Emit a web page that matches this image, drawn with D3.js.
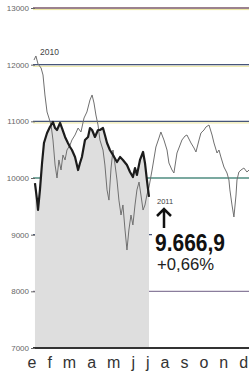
<!DOCTYPE html>
<html>
<head>
<meta charset="utf-8">
<script src="https://cdn.jsdelivr.net/npm/d3@7"></script>
<style>
  html, body { margin: 0; padding: 0; background: #fff; }
  svg { display: block; font-family: "Liberation Sans", Arial, sans-serif; }
</style>
</head>
<body>
<div id="chart"></div>
<script>
// month labels (Spanish initials) and y ticks
const months = ["e", "f", "m", "a", "m", "j", "j", "a", "s", "o", "n", "d"];
const yTicks = [7000, 8000, 9000, 10000, 11000, 12000, 13000];

// 2010: time in months since 1 Jan, index value
const t2010 = [0.00, 0.10, 0.21, 0.37, 0.47, 0.57, 0.68, 0.78, 0.89, 0.99,
  1.10, 1.20, 1.30, 1.41, 1.51, 1.62, 1.72, 1.88, 1.98, 2.14,
  2.30, 2.45, 2.61, 2.76, 2.92, 3.03, 3.13, 3.23, 3.34, 3.44,
  3.60, 3.70, 3.81, 3.91, 4.02, 4.12, 4.23, 4.33, 4.43, 4.54,
  4.64, 4.75, 4.85, 4.95, 5.06, 5.16, 5.27, 5.37, 5.48, 5.58,
  5.69, 5.79, 5.89, 6.00, 6.16, 6.36, 6.52, 6.62, 6.78, 6.94,
  7.04, 7.20, 7.30, 7.46, 7.62, 7.72, 7.88, 7.98, 8.19, 8.35,
  8.45, 8.61, 8.71, 8.87, 8.97, 9.13, 9.29, 9.39, 9.55, 9.65,
  9.75, 9.91, 10.07, 10.17, 10.22, 10.33, 10.43, 10.54, 10.59, 10.69,
  10.80, 10.95, 11.11, 11.22, 11.37];
const v2010 = [12082, 12153, 12012, 11941, 11818, 11465, 11165, 11059, 10935, 10671,
  10229, 10000, 10318, 10141, 10406, 10318, 10494, 10582, 10671, 10759,
  10882, 10812, 11059, 11165, 11376, 11465, 11324, 11112, 10935, 10671,
  10494, 10229, 9790, 9610, 10176, 10494, 10229, 9965, 9610, 9347,
  9524, 9082, 8729, 9082, 9347, 9171, 9524, 9790, 9929, 9700,
  9435, 9524, 9700, 9841, 10141, 10547, 10706, 10812, 10671, 10494,
  10265, 10141, 10088, 10441, 10582, 10671, 10741, 10759, 10618, 10529,
  10459, 10671, 10794, 10847, 10900, 10935, 10759, 10618, 10441, 10494,
  10371, 10194, 10088, 9965, 9790, 9524, 9312, 9700, 9965, 10106,
  10141, 10176, 10106, 10141, 10176];

// 2011: time in months since 1 Jan, index value
const t2011 = [0.05, 0.16, 0.21, 0.31, 0.42, 0.52, 0.68, 0.83, 0.99, 1.10,
  1.20, 1.36, 1.46, 1.62, 1.77, 1.88, 1.98, 2.14, 2.30, 2.40,
  2.50, 2.66, 2.82, 2.92, 3.03, 3.18, 3.34, 3.44, 3.60, 3.70,
  3.81, 3.96, 4.12, 4.33, 4.49, 4.64, 4.85, 5.01, 5.16, 5.27,
  5.37, 5.53, 5.69, 5.79, 5.89, 6.00];
const v2011 = [9910, 9610, 9435, 9790, 10265, 10618, 10794, 10900, 10988, 10882,
  10847, 10971, 10882, 10724, 10618, 10547, 10494, 10371, 10141, 10265,
  10371, 10671, 10724, 10882, 10847, 10724, 10847, 10847, 10882, 10759,
  10618, 10494, 10406, 10282, 10371, 10318, 10229, 10106, 10018, 10176,
  10053, 10318, 10459, 10265, 9965, 9667];

const lastValue = "9.666,9";
const lastChange = "+0,66%";

function chartRenderFn() {
  let width = 249,
    height = 372,
    left = 34,
    right = 249;

  // create xScale
  let xScale = d3.scaleLinear().domain([0, 12]).range([left, 264]);

  // create yScale
  let yScale = d3.scaleLinear().domain([7000, 13000]).range([348, 8]);

  // create SVG
  let svg = d3
    .select("#chart")
    .append("svg")
    .attr("width", width)
    .attr("height", height);

  let data2010 = t2010.map((t, i) => ({ t: t, v: v2010[i] }));
  let data2011 = t2011.map((t, i) => ({ t: t, v: v2011[i] }));

  // gridlines (scanned look: dark line with a faint yellow fringe)
  let grid = svg.append("g").attr("class", "grid");
  grid
    .selectAll("line.fringe")
    .data(yTicks.filter(d => d > 10000))
    .enter()
    .append("line")
    .attr("class", "fringe")
    .attr("x1", left - 1)
    .attr("x2", right)
    .attr("y1", d => yScale(d) + 1.6)
    .attr("y2", d => yScale(d) + 1.6)
    .style("stroke", "#ebe59a")
    .style("stroke-width", 1);
  grid
    .selectAll("line.main")
    .data(yTicks.filter(d => d > 7000))
    .enter()
    .append("line")
    .attr("class", "main")
    .attr("x1", left - 1)
    .attr("x2", right)
    .attr("y1", d => yScale(d))
    .attr("y2", d => yScale(d))
    .style("stroke", d => (d === 10000 ? "#4f8c80" : d === 8000 ? "#8a7d9c" : d === 13000 ? "#7a5868" : "#46557a"))
    .style("stroke-width", 1.3);

  // area for 2011
  let area = d3
    .area()
    .x(d => xScale(d.t))
    .y0(yScale(7000))
    .y1(d => yScale(d.v));

  svg
    .append("path")
    .datum(data2011)
    .attr("d", area)
    .style("fill", "#dedede");

  // 2010 line
  let line = d3
    .line()
    .x(d => xScale(d.t))
    .y(d => yScale(d.v));

  svg
    .append("path")
    .datum(data2010)
    .attr("d", line)
    .style("fill", "none")
    .style("stroke", "#707070")
    .style("stroke-width", 1)
    .style("stroke-linejoin", "round");

  // 2011 line
  svg
    .append("path")
    .datum(data2011)
    .attr("d", line)
    .style("fill", "none")
    .style("stroke", "#1c1c1c")
    .style("stroke-width", 2.2)
    .style("stroke-linejoin", "round");

  // baseline
  svg
    .append("line")
    .attr("x1", left - 1)
    .attr("x2", right)
    .attr("y1", yScale(7000))
    .attr("y2", yScale(7000))
    .style("stroke", "#333")
    .style("stroke-width", 2);

  // create yAxis
  let yAxis = svg
    .append("g")
    .attr("class", "y-axis axis")
    .attr("transform", "translate(" + (left + 1) + ",0)")
    .call(d3.axisLeft(yScale).tickValues(yTicks).tickSize(4).tickPadding(2).tickFormat(d3.format("d")));
  yAxis.select(".domain").remove();
  yAxis.selectAll("line").style("stroke", "#666");
  yAxis
    .selectAll("text")
    .style("font-size", "8px")
    .style("fill", "#666")
    .style("font-family", "'Liberation Sans', Arial, sans-serif");

  // series labels
  svg
    .append("text")
    .text("2010")
    .attr("x", xScale(t2010[0]) + 6)
    .attr("y", 55)
    .style("font-size", "8.5px")
    .style("fill", "#444");

  svg
    .append("text")
    .text("2011")
    .attr("x", 157)
    .attr("y", 204)
    .style("font-size", "7.5px")
    .style("fill", "#444");

  // arrow
  svg
    .append("path")
    .attr("d", "M164,231V209M157,216L164,209L171,216")
    .style("fill", "none")
    .style("stroke", "#111")
    .style("stroke-width", 2.5);

  // last value box
  svg
    .append("rect")
    .attr("x", 152)
    .attr("y", 228)
    .attr("width", 97)
    .attr("height", 26)
    .style("fill", "#fff");

  svg
    .append("text")
    .text(lastValue)
    .attr("x", 155)
    .attr("y", 251)
    .attr("textLength", 70)
    .attr("lengthAdjust", "spacingAndGlyphs")
    .style("font-size", "23px")
    .style("font-weight", "bold")
    .style("fill", "#111");

  svg
    .append("text")
    .text(lastChange)
    .attr("x", 157)
    .attr("y", 270)
    .attr("textLength", 57)
    .attr("lengthAdjust", "spacingAndGlyphs")
    .style("font-size", "16px")
    .style("fill", "#222");

  // month labels, set like a spaced line of type
  let cursor = 27.5,
    gap = 11;
  let monthG = svg.append("g").attr("class", "months");
  months.forEach(m => {
    let t = monthG
      .append("text")
      .text(m)
      .attr("x", cursor)
      .attr("y", 368)
      .style("font-size", "16px")
      .style("fill", "#333");
    cursor += t.node().getComputedTextLength() + gap;
  });
}

chartRenderFn();
</script>
</body>
</html>
